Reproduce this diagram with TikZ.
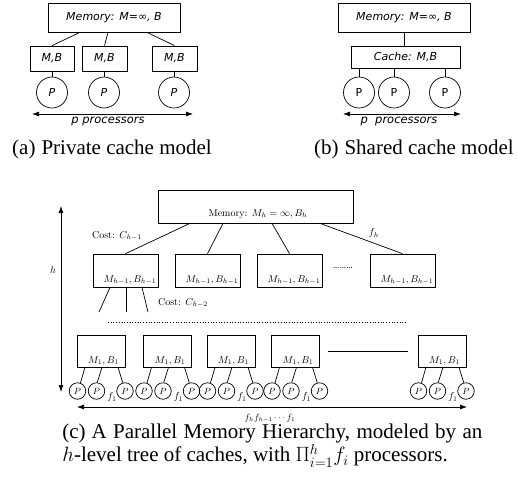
\documentclass[tikz,border=0pt]{standalone}
\usepackage{fontspec}
\newfontfamily\vfont{DejaVu Sans}
\newfontfamily\capfont{Liberation Serif}
\usetikzlibrary{arrows.meta, positioning}

\begin{document}
\begin{tikzpicture}[x=1pt, y=-1pt, line width=0.7pt,
    vbox/.style={draw, inner sep=0pt, minimum height=25, font=\vfont\itshape\fontsize{11}{12}\selectfont},
    vproc/.style={draw, circle, inner sep=0pt, minimum size=31, font=\vfont\fontsize{11}{12}\selectfont},
    vtext/.style={inner sep=0pt, font=\vfont\itshape\fontsize{11.5}{12}\selectfont},
    cbox/.style={draw, inner sep=0pt},
    ctext/.style={inner sep=0pt, font=\fontsize{10}{11}\selectfont},
    cproc/.style={draw, circle, inner sep=0pt, minimum size=16.5, font=\fontsize{9}{10}\selectfont},
    capt/.style={inner sep=0pt, font=\capfont\fontsize{21}{18.5}\selectfont},
    dblarrow/.style={{Latex[length=7pt,width=5pt]}-{Latex[length=7pt,width=5pt]}}]
\useasboundingbox (0,0) rectangle (517,480);

% (a) private caches
\node[vbox, minimum width=132, minimum height=29] (amem) at (114,17.5) {Memory: M=∞, B};
\node[vbox, minimum width=44] (ac1) at (52,58.5) {M,B};
\node[vbox, minimum width=45] (ac2) at (104.5,58.5) {M,B};
\node[vbox, minimum width=45] (ac3) at (174.5,58.5) {M,B};
\node[vproc, font=\vfont\itshape\fontsize{11}{12}\selectfont] (ap1) at (52,92.5) {P};
\node[vproc, font=\vfont\itshape\fontsize{11}{12}\selectfont] (ap2) at (104,92.5) {P};
\node[vproc, font=\vfont\itshape\fontsize{11}{12}\selectfont] (ap3) at (174,92.5) {P};
\draw ([xshift=-34]amem.south) -- (ac1.north);
\draw ([xshift=-6]amem.south) -- (ac2.north);
\draw ([xshift=33]amem.south) -- (ac3.north);
\foreach \i in {1,2,3}
  \draw (ap\i.north) -- (ap\i.north |- ac\i.south);
\coordinate (aleft) at (32,114);
\coordinate (aright) at (193,114);
\draw[dblarrow] (aleft) -- (aright);
\node[vtext] (alab) at (108,121) {p processors};
\node[capt] (acap) at (112,149) {(a)\hspace{6pt}Private cache model};

% (b) shared cache
\node[vbox, minimum width=132, minimum height=29] (bmem) at (404,17.5) {Memory: M=∞, B};
\node[vbox, minimum width=109, minimum height=22] (bcache) at (405.5,57) {Cache: M,B};
\node[vproc] (bp1) at (359,92.5) {P};
\node[vproc] (bp2) at (394,92.5) {P};
\node[vproc] (bp3) at (445,92.5) {P};
\draw (bmem.south) -- (bmem.south |- bcache.north);
\foreach \i in {1,2,3}
  \draw (bp\i.north) -- (bp\i.north |- bcache.south);
\coordinate (bleft) at (343,114);
\coordinate (bright) at (461,114);
\draw[dblarrow] (bleft) -- (bright);
\node[vtext] (blab) at (399,121) {p\ \ processors};
\node[capt, anchor=east] (bcap) at (514,149) {(b)\hspace{6pt}Shared cache model};

% (c) parallel memory hierarchy
\node[cbox, minimum width=195, minimum height=33] (mh) at (255.5,206.5) {};
\node[ctext, anchor=base] (mht) at (258,216) {Memory: $M_h=\infty, B_h$};
\foreach \i/\x in {1/125.5, 2/207.5, 3/289.5, 4/402.5} {
  \node[cbox, minimum width=65, minimum height=33] (hb\i) at (\x,270.5) {};
  \node[ctext, anchor=base] (hbt\i) at (\x+4.5,282) {$M_{h-1},B_{h-1}$};
}
\draw ([xshift=-65.5]mh.south) -- (hb1.north);
\draw ([xshift=-32.5]mh.south) -- (hb2.north);
\draw ([xshift=16.5]mh.south) -- (hb3.north);
\draw ([xshift=64.5]mh.south) -- (hb4.north);
\node[ctext] (cost1) at (117,236) {Cost: $C_{h-1}$};
\node[ctext] (fh) at (374,233) {$f_h$};
\node[ctext] (hdots) at (343,268) {\dots\dots\dots};

% below the first cache of level h-1
\coordinate (d1) at (99,312);
\coordinate (d2) at (126,312);
\coordinate (d3) at (148,312);
\draw ([xshift=-15.5]hb1.south) -- (d1);
\draw ([xshift=0.5]hb1.south) -- (d2);
\draw ([xshift=16.5]hb1.south) -- (d3);
\node[ctext] (cost2) at (183,303) {Cost: $C_{h-2}$};
\coordinate (dotl) at (108,322);
\coordinate (dotr) at (406,322);
\draw[dotted] (dotl) -- (dotr);

% height arrow
\coordinate (htop) at (61,206);
\coordinate (hbot) at (61,392);
\draw[dblarrow] (htop) -- (hbot);
\node[ctext] (hlab) at (53,270) {$h$};

% level 1 caches and processors
\foreach \i/\x in {1/101, 2/167.5, 3/231, 4/295.5, 5/442} {
  \node[cbox, minimum width=48, minimum height=32] (l\i) at (\x,351) {};
  \node[ctext, anchor=base] (lt\i) at (\x+2.5,363) {$M_1,B_1$};
  \node[cproc] (pa\i) at (\x-23.5,391) {$P$};
  \node[cproc] (pb\i) at (\x-4.5,391) {$P$};
  \node[cproc] (pc\i) at (\x+24,391) {$P$};
  \node[ctext] (f\i) at (\x+11,397) {$f_1$};
  \node[ctext, font=\fontsize{5}{5}\selectfont] (dd\i) at (\x+7,388) {$\cdot\cdot$};
  \draw ([xshift=-16]l\i.south) -- (pa\i.70);
  \draw ([xshift=1]l\i.south) -- (pb\i.85);
  \draw ([xshift=17]l\i.south) -- (pc\i.105);
}
\draw ([xshift=8]l4.east) -- ([xshift=-10]l5.west);
\coordinate (wleft) at (77,407);
\coordinate (wright) at (467,407);
\draw[dblarrow] (wleft) -- (wright);
\node[ctext, font=\fontsize{9}{10}\selectfont] (wlab) at (270,418) {$f_hf_{h-1}\cdots f_1$};

\node[capt, anchor=north west, align=left] (ccap) at (62,424)
  {\makebox[420pt][s]{(c)\hspace{6pt}A Parallel Memory Hierarchy, modeled by an}\\
   $h$-level tree of caches, with $\Pi_{i=1}^h f_i$ processors.};
\end{tikzpicture}
\end{document}
